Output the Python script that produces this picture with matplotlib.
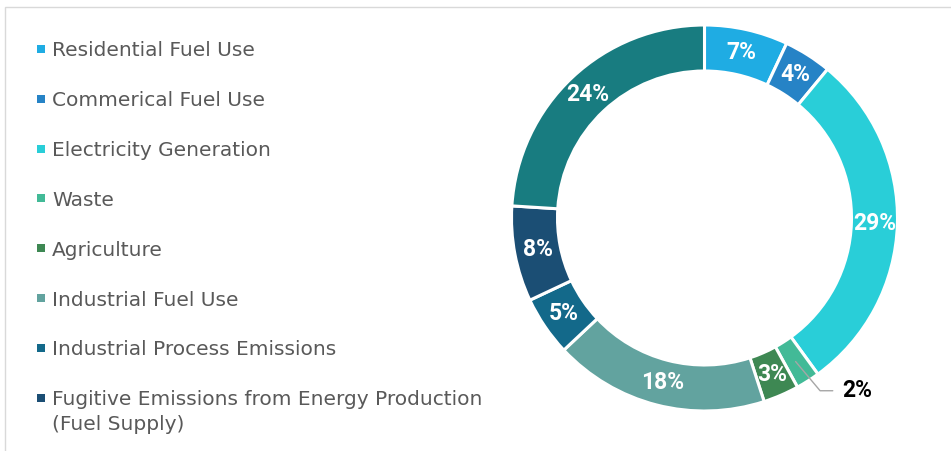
import numpy as np
import matplotlib
matplotlib.use("Agg")
import matplotlib.pyplot as plt
from matplotlib.patches import Rectangle

categories = ["Residential Fuel Use", "Commerical Fuel Use", "Electricity Generation",
              "Waste", "Agriculture", "Industrial Fuel Use", "Industrial Process Emissions",
              "Fugitive Emissions from Energy Production\n(Fuel Supply)", "Transportation"]
values = [7, 4, 29, 2, 3, 18, 5, 8, 24]
colors = ["#1FACE3", "#2683C6", "#29CED8", "#42BA97", "#3E8853", "#62A39F",
          "#13698A", "#1B4E74", "#187C80"]
legend_count = 8  # last category not shown in legend (cut off)

W, H = 951, 451
fig = plt.figure(figsize=(W / 100, H / 100), dpi=100)
fig.patch.set_facecolor("white")

# light frame
fig.add_artist(Rectangle((5 / W, -0.1), 2.0, (H - 7) / H + 0.1, transform=fig.transFigure,
                         fill=False, edgecolor="#D9D9D9", linewidth=1.0))

# donut axes
cx, cy, R = 704.5, H - 218, 193.0
half = 205.0
ax = fig.add_axes([(cx - half) / W, (cy - half) / H, 2 * half / W, 2 * half / H])

width = 46.0 / R
wedges, _ = ax.pie(values, colors=colors, startangle=90, counterclock=False, radius=1.0,
                   wedgeprops=dict(width=width, edgecolor="white", linewidth=2.2))
ax.set_xlim(-half / R, half / R)
ax.set_ylim(-half / R, half / R)
ax.set_aspect("equal")
ax.axis("off")

label_font = ["Roboto", "DejaVu Sans"]
mid_r = 1.0 - width / 2
for w, v in zip(wedges, values):
    ang = np.deg2rad((w.theta1 + w.theta2) / 2)
    x, y = mid_r * np.cos(ang), mid_r * np.sin(ang)
    txt = f"{v}%"
    if v <= 2:
        ax.annotate(txt, xy=(x, y), xytext=(0.715, -0.895),
                    fontsize=16.5, fontweight="bold", family=label_font, color="black",
                    ha="left", va="center",
                    arrowprops=dict(arrowstyle="-", color="#A6A6A6", lw=1.0,
                                    connectionstyle="angle,angleA=0,angleB=-50,rad=0",
                                    shrinkA=5, shrinkB=0))
    else:
        ax.text(x, y, txt, ha="center", va="center", fontsize=16.5, fontweight="bold",
                family=label_font, color="white")

# legend (manual)
row0, step = 49, 49.8
for i in range(legend_count):
    yy = row0 + i * step
    fig.add_artist(Rectangle((37 / W, (H - yy - 4) / H), 8 / W, 8 / H,
                             transform=fig.transFigure, facecolor=colors[i], edgecolor="none"))
    lines = categories[i].split("\n")
    for j, ln in enumerate(lines):
        fig.text(52 / W, (H - yy - 25 * j) / H, ln, ha="left", va="center_baseline",
                 fontsize=14.5, color="#595959", family="DejaVu Sans")

fig.savefig("out.png", dpi=100, facecolor="white")
